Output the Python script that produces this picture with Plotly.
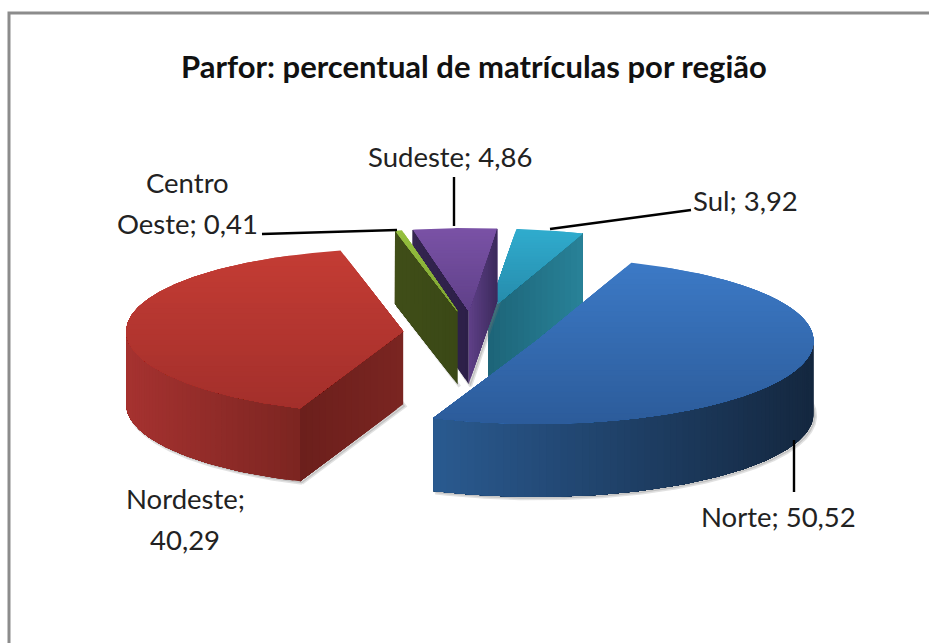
import numpy as np
import plotly.graph_objects as go

# ---- data ----
categories = ["Norte", "Nordeste", "Centro Oeste", "Sudeste", "Sul"]
values = [50.52, 40.29, 0.41, 4.86, 3.92]
title_text = "Parfor: percentual de matrículas por região"

# ---- projection of the tilted pie on the page (pixels) ----
CX, CY = 470.0, 333.0      # pie centre
RX, RY = 277.0, 83.0       # ellipse radii of one slice
EXPL_X, EXPL_Y = 67.0, 22.0  # explosion
DEPTH = 73.0               # wall height
START = 20.0               # first slice angle (clockwise from top)
# small corrections for the original's perspective
NUDGE = {"Norte": (4.0, 0.0), "Centro Oeste": (2.0, 0.0), "Sudeste": (2.0, 0.0), "Sul": (3.0, 0.0)}

# per-category styles: top gradient (upper, lower), outer wall gradient (left, right)
TOP = {
    "Norte": ("#3c79c6", "#2c5c9a"),
    "Nordeste": ("#c43c34", "#a32f2b"),
    "Centro Oeste": ("#95c03e", "#7fa334"),
    "Sudeste": ("#7a52a6", "#5f4088"),
    "Sul": ("#30acce", "#2588a8"),
}
WALL = {
    "Norte": ("#2a5a90", "#14273f"),
    "Nordeste": ("#a63230", "#7c2521"),
    "Centro Oeste": ("#3c4a16", "#3c4a16"),
    "Sudeste": ("#31224c", "#31224c"),
    "Sul": ("#288298", "#288298"),
}
# radial walls: gradient from the slice apex to its rim
RADIAL = {
    "Norte": {},
    "Nordeste": {"start": ("#7a2521", "#6c1f1c")},
    "Centro Oeste": {"start": ("#3a4816", "#404e18")},
    "Sudeste": {"start": ("#2c1f48", "#34254f"), "end": ("#5f4088", "#3c2a5c")},
    "Sul": {"end": ("#1d6478", "#288298")},
}
DRAW_ORDER = ["Sul", "Sudeste", "Centro Oeste", "Nordeste", "Norte"]


def rgb(h):
    return np.array([int(h[i:i + 2], 16) for i in (1, 3, 5)], float)


def mix(a, b, t):
    c = rgb(a) * (1 - t) + rgb(b) * t
    return "rgb(%d,%d,%d)" % tuple(c.round())


def clip_below(pts, y0):
    """Keep the part of a polygon with y >= y0."""
    out = []
    for i in range(len(pts)):
        a, b = pts[i], pts[(i + 1) % len(pts)]
        ka, kb = a[1] >= y0, b[1] >= y0
        if ka:
            out.append(a)
        if ka != kb:
            t = (y0 - a[1]) / (b[1] - a[1])
            out.append((a[0] + t * (b[0] - a[0]), y0))
    return out


fig = go.Figure()


def poly(pts, color, name, width=0, line=None):
    xs = [p[0] for p in pts] + [pts[0][0]]
    ys = [p[1] for p in pts] + [pts[0][1]]
    fig.add_trace(go.Scatter(
        x=xs, y=ys, mode="lines", fill="toself", fillcolor=color,
        line=dict(color=line or color, width=width), name=name,
        hoverinfo="name", showlegend=False))


total = sum(values)
angles = {}
a = START
for c, v in zip(categories, values):
    angles[c] = (a, a + v / total * 360)
    a += v / total * 360


def centre(c):
    t0, t1 = angles[c]
    m = np.radians((t0 + t1) / 2)
    nx, ny = NUDGE.get(c, (0.0, 0.0))
    return CX + EXPL_X * np.sin(m) + nx, CY - EXPL_Y * np.cos(m) + ny


def arc(c, t0, t1, n=None):
    cx, cy = centre(c)
    n = n or max(3, int(abs(t1 - t0) * 2))
    th = np.radians(np.linspace(t0, t1, n))
    return [(cx + RX * np.sin(t), cy - RY * np.cos(t)) for t in th]


for c in DRAW_ORDER:
    label = f"{c}: {values[categories.index(c)]}"
    t0, t1 = angles[c]
    cx, cy = centre(c)
    top_arc = arc(c, t0, t1)

    # soft shadow round the silhouette
    low = [(x + 2, y + DEPTH + 2) for x, y in top_arc] + [(cx + 2, cy + DEPTH + 2)]
    poly(low, "rgba(120,120,120,0.28)", label, width=3, line="rgba(120,120,120,0.22)")

    # radial walls: each step paints from its own position to the rim
    for key, ang in (("start", t0), ("end", t1)):
        if key in RADIAL[c]:
            near, far = RADIAL[c][key]
            p = arc(c, ang, ang, 2)[0]
            steps = 16
            for i in range(steps):
                u0 = i / steps
                q0 = (cx + (p[0] - cx) * u0, cy + (p[1] - cy) * u0)
                poly([q0, p, (p[0], p[1] + DEPTH), (q0[0], q0[1] + DEPTH)],
                     mix(near, far, (i + .5) / steps), label)

    # outer wall, only the part facing the viewer
    lo, hi = max(t0, 90.0), min(t1, 270.0)
    if hi > lo:
        pts = arc(c, lo, hi, int((hi - lo) / 1.5) + 2)
        xs = [p[0] for p in pts]
        xmin, xmax = min(xs), max(xs)
        left, right = WALL[c]
        # walk along the arc painting the remaining wall each time
        for i in range(0, len(pts) - 1):
            rest = pts[i:]
            f = ((pts[i][0] + pts[i + 1][0]) / 2 - xmin) / (xmax - xmin)
            poly(rest + [(x, y + DEPTH) for x, y in reversed(rest)],
                 mix(left, right, f), label)

    # top face with a vertical gradient: bands paint from their top edge down
    outline = [(cx, cy)] + top_arc
    ys = [p[1] for p in outline]
    ymin, ymax = min(ys), max(ys)
    up, dn = TOP[c]
    bands = 30
    edges = np.linspace(ymin, ymax, bands + 1)
    for i in range(bands):
        piece = outline if i == 0 else clip_below(outline, edges[i])
        if len(piece) >= 3:
            poly(piece, mix(up, dn, (i + .5) / bands), label)

# ---- leader lines (pixels) ----
leaders = [
    ([794, 794], [440, 492]),
    ([262, 397], [234, 230]),
    ([454, 454], [177, 226]),
    ([691, 550], [210, 229]),
]
for lx, ly in leaders:
    fig.add_trace(go.Scatter(x=lx, y=ly, mode="lines", hoverinfo="skip", showlegend=False,
                             line=dict(color="#000000", width=2.4)))


def fmt(v):
    return f"{v:.2f}".replace(".", ",")


val = dict(zip(categories, values))
# text lines: (text, centre x, centre y)
LABEL_LINES = [
    (f"Norte; {fmt(val['Norte'])}", 778, 516),
    ("Nordeste;", 185, 498),
    (fmt(val["Nordeste"]), 185, 539),
    ("Centro", 187, 182),
    (f"Oeste; {fmt(val['Centro Oeste'])}", 187, 223),
    (f"Sudeste; {fmt(val['Sudeste'])}", 450, 156),
    (f"Sul; {fmt(val['Sul'])}", 745, 200),
]
FONT = "Lato, 'Open Sans', sans-serif"
annotations = [dict(text=f"<b>{title_text}</b>", x=474, y=66, xref="x", yref="y", showarrow=False,
                    font=dict(family=FONT, size=31, color="#111111"), xanchor="center", yanchor="middle")]
for t, x, y in LABEL_LINES:
    annotations.append(dict(text=t, x=x, y=y, xref="x", yref="y", showarrow=False,
                            font=dict(family=FONT, size=27.5, color="#222222"),
                            xanchor="center", yanchor="middle"))

fig.update_layout(
    width=929, height=643, autosize=False,
    margin=dict(l=0, r=0, t=0, b=0),
    paper_bgcolor="#ffffff", plot_bgcolor="#ffffff",
    showlegend=False, annotations=annotations,
    xaxis=dict(range=[0, 929], visible=False, fixedrange=True),
    yaxis=dict(range=[643, 0], visible=False, fixedrange=True),
    shapes=[dict(type="rect", xref="x", yref="y", x0=9, y0=13, x1=960, y1=700,
                 line=dict(color="#8c8c8c", width=3), layer="below")],
)
fig.write_html("out.html", config=dict(displayModeBar=False),
               post_script="document.body.style.margin='0';document.body.style.overflow='hidden';")
